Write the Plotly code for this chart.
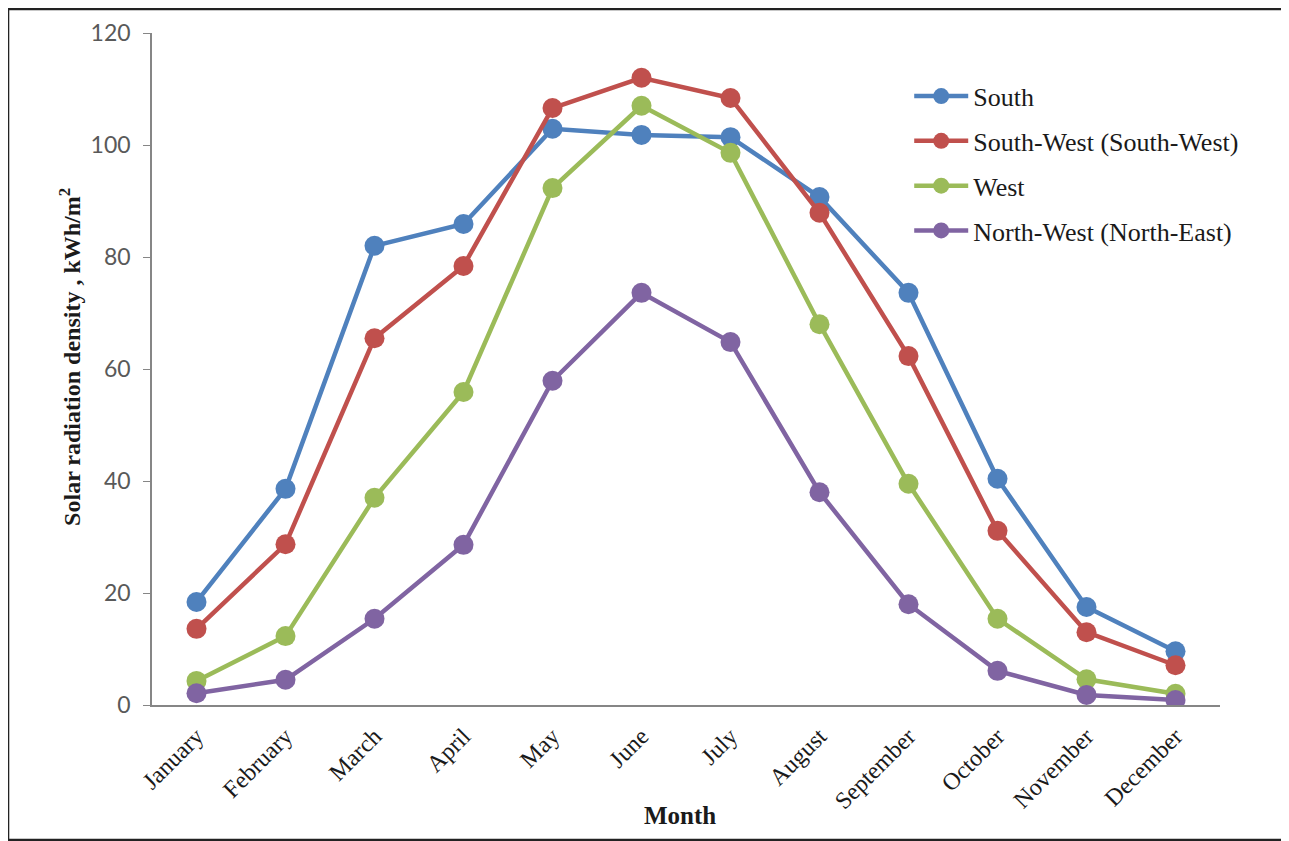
import plotly.graph_objects as go

months = ["January", "February", "March", "April", "May", "June", "July",
          "August", "September", "October", "November", "December"]
south = [18.4, 38.6, 82.0, 85.9, 102.9, 101.8, 101.4, 90.7, 73.6, 40.4, 17.5, 9.6]
south_west = [13.6, 28.7, 65.5, 78.4, 106.6, 112.0, 108.4, 87.9, 62.3, 31.1, 13.0, 7.1]
west = [4.3, 12.3, 37.0, 55.9, 92.3, 107.0, 98.6, 68.0, 39.5, 15.4, 4.6, 2.0]
north_west = [2.1, 4.5, 15.4, 28.6, 57.9, 73.6, 64.8, 38.0, 18.0, 6.1, 1.8, 0.9]

series = [
    ("South", south, "#4F81BD"),
    ("South-West (South-West)", south_west, "#C0504D"),
    ("West", west, "#9BBB59"),
    ("North-West (North-East)", north_west, "#8064A2"),
]

fig = go.Figure()
for i, (name, vals, col) in enumerate(series):
    fig.add_trace(go.Scatter(
        x=months, y=vals, name=name, mode="lines+markers",
        line=dict(color=col, width=4.5),
        marker=dict(color=col, size=20),
        legendgroup=f"g{i}",
    ))

serif = "Liberation Serif"
fig.update_layout(
    width=1281, height=833,
    margin=dict(l=144, r=69, t=25, b=136),
    paper_bgcolor="white", plot_bgcolor="white",
    showlegend=True,
    legend=dict(
        x=0.709, y=0.941, xanchor="left", yanchor="top",
        font=dict(family=serif, size=26, color="#1a1a1a"),
        bgcolor="rgba(0,0,0,0)", traceorder="grouped", tracegroupgap=8,
        itemwidth=54,
    ),
    xaxis=dict(
        type="category", range=[-0.5, 11.5],
        showline=True, linecolor="#868686", linewidth=1.5,
        ticks="", tickangle=-45, ticklabelstandoff=6,
        tickfont=dict(family=serif, size=24, color="#1a1a1a"),
        showgrid=False, zeroline=False, automargin=False,
    ),
    yaxis=dict(
        range=[0, 120], dtick=20,
        showline=True, linecolor="#868686", linewidth=1.5,
        ticks="outside", ticklen=7, tickcolor="#868686",
        ticklabelstandoff=8,
        tickfont=dict(family="Lato", size=23, color="#595959"),
        showgrid=False, zeroline=False, automargin=False,
    ),
    annotations=[
        dict(text="<b>Month</b>", xref="paper", yref="paper", x=0.494, y=-0.164,
             showarrow=False, xanchor="center", yanchor="middle",
             font=dict(family=serif, size=25, color="#1a1a1a")),
        dict(text="<b>Solar radiation density , kWh/m<sup>2</sup></b>", xref="paper", yref="paper",
             x=-0.0768, y=0.518, textangle=-90, showarrow=False,
             xanchor="center", yanchor="middle",
             font=dict(family=serif, size=24, color="#1a1a1a")),
    ],
    shapes=[dict(type="rect", xref="paper", yref="paper",
                 x0=-0.1348, x1=1.0627, y0=-0.2009, y1=1.0357,
                 line=dict(color="#222222", width=2.5), layer="above")],
)

fig.write_html("out.html")
